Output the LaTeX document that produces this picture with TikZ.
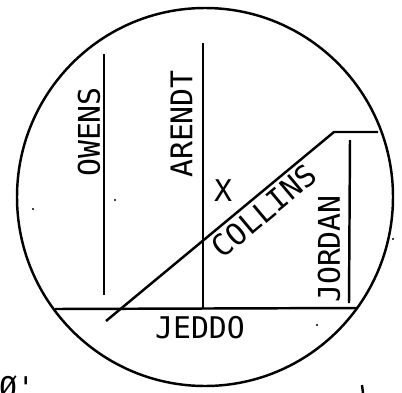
\documentclass[tikz,border=0pt]{standalone}
\usepackage{fontspec}
\setmonofont{DejaVu Sans Mono}
\usepackage{tikz}
\usetikzlibrary{positioning}

\begin{document}
\begin{tikzpicture}[x=0.02cm, y=-0.02cm,
  road/.style={draw, line width=1.4pt},
  lbl/.style={font=\fontsize{17}{17}\selectfont\ttfamily, inner sep=0pt},
  speck/.style={fill, circle, inner sep=0pt, minimum size=1.2pt}
]
  \useasboundingbox (0,0) rectangle (402,392);

  % ----- Boundary -----
  \coordinate (center) at (205,197);
  \draw[road] (center) ellipse [x radius=188, y radius=189];

  % ----- Streets -----
  \coordinate (owensN) at (104,54);
  \coordinate (owensS) at (104,295);
  \coordinate (arendtN) at (203,43);
  \coordinate (arendtS) at (203,309);
  \coordinate (jordanN) at (350,140);
  \coordinate (jordanS) at (349,303);
  \coordinate (jeddoW) at (55,309);
  \coordinate (jeddoE) at (358,308);
  \coordinate (collinsS) at (106,321);
  \coordinate (collinsB) at (334,132);
  \coordinate (collinsE) at (378,132);
  \draw[road] (owensN) -- (owensS);
  \draw[road] (arendtN) -- (arendtS);
  \draw[road] (jordanN) -- (jordanS);
  \draw[road] (jeddoW) -- (jeddoE);
  \draw[road] (collinsS) -- (collinsB) -- (collinsE);

  % ----- Labels -----
  \node[lbl, rotate=90] (owens) at (89,132) {OWENS};
  \node[lbl, rotate=90] (arendt) at (181.5,124) {ARENDT};
  \node[lbl, rotate=90] (jordan) at (329,249) {JORDAN};
  \node[lbl, rotate=40] (collins) at (264,211) {COLLINS};
  \node[lbl] (jeddo) at (200,328) {JEDDO};
  \node[lbl] (x) at (223,191) {X};
  \node[lbl] (scale) at (17,388) {Ø'};

  % ----- Edge marks -----
  \coordinate (tickN) at (362,385);
  \coordinate (tickS) at (363,393);
  \draw[road] (tickN) -- (tickS);
  \node[speck] (s1) at (115,200) {};
  \node[speck] (s2) at (33,209) {};
  \node[speck] (s3) at (393,239) {};
  \node[speck] (s4) at (317,325) {};
\end{tikzpicture}
\end{document}
